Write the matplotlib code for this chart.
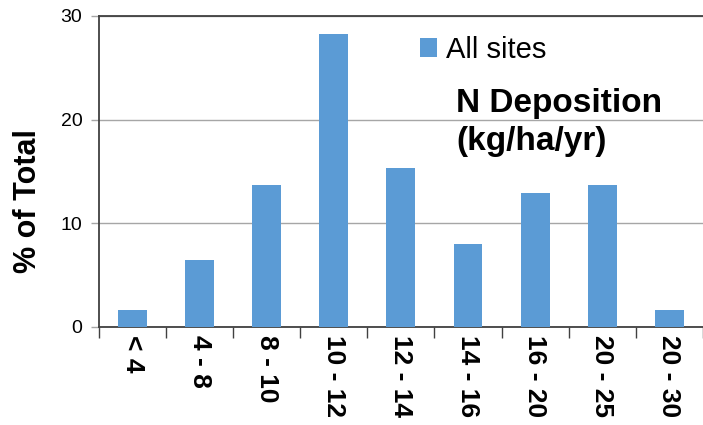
import matplotlib
matplotlib.use("Agg")
import matplotlib.pyplot as plt
import numpy as np

plt.rcParams['font.family'] = ['Liberation Sans', 'DejaVu Sans']

# N deposition classes (kg/ha/yr) and share of sites
classes = ["< 4", "4 - 8", "8 - 10", "10 - 12", "12 - 14", "14 - 16", "16 - 20", "20 - 25", "20 - 30"]
pct_total = [1.6, 6.5, 13.7, 28.3, 15.3, 8.0, 12.9, 13.7, 1.6]
series_name = "All sites"

fig = plt.figure(figsize=(7.03, 4.25), dpi=100)
ax = fig.add_axes([0.1408, 0.2306, 0.859, 0.7318])

x = np.arange(len(classes))
ax.bar(x, pct_total, width=0.43, color="#5B9BD5", label=series_name, zorder=3)

ax.set_xlim(-0.5, len(classes) - 0.5)
ax.set_ylim(0, 30)
ax.set_yticks([0, 10, 20, 30])
ax.yaxis.grid(True, color="#A6A6A6", linewidth=1, zorder=0)

# category boundaries get the tick marks, labels sit in the middle
ax.set_xticks(np.arange(len(classes) + 1) - 0.5, minor=False)
ax.set_xticklabels([])
ax.set_xticks(x, minor=True)
ax.set_xticklabels(classes, minor=True, rotation=-90, fontsize=19, fontweight="bold", va="top", ha="center")
ax.tick_params(axis="x", which="major", length=8, width=1, color="#404040", direction="out")
ax.tick_params(axis="x", which="minor", length=0, pad=6)
ax.tick_params(axis="y", length=6, width=1, color="#A6A6A6", labelsize=14, pad=6)

for s in ["left", "bottom", "top"]:
    ax.spines[s].set_color("#404040")
    ax.spines[s].set_linewidth(1.3)
ax.spines["right"].set_visible(False)

ax.set_ylabel("% of Total", fontsize=22, fontweight="bold")
ax.yaxis.set_label_coords(-0.093, 0.405)

ax.legend(loc="upper left", bbox_to_anchor=(0.488, 1.02), frameon=False, fontsize=21,
          handlelength=0.6, handleheight=0.6, handletextpad=0.3)
ax.text(0.592, 0.77, "N Deposition\n(kg/ha/yr)", transform=ax.transAxes, fontsize=24,
        fontweight="bold", va="top", ha="left", linespacing=1.3)

fig.savefig("out.png", dpi=100)
